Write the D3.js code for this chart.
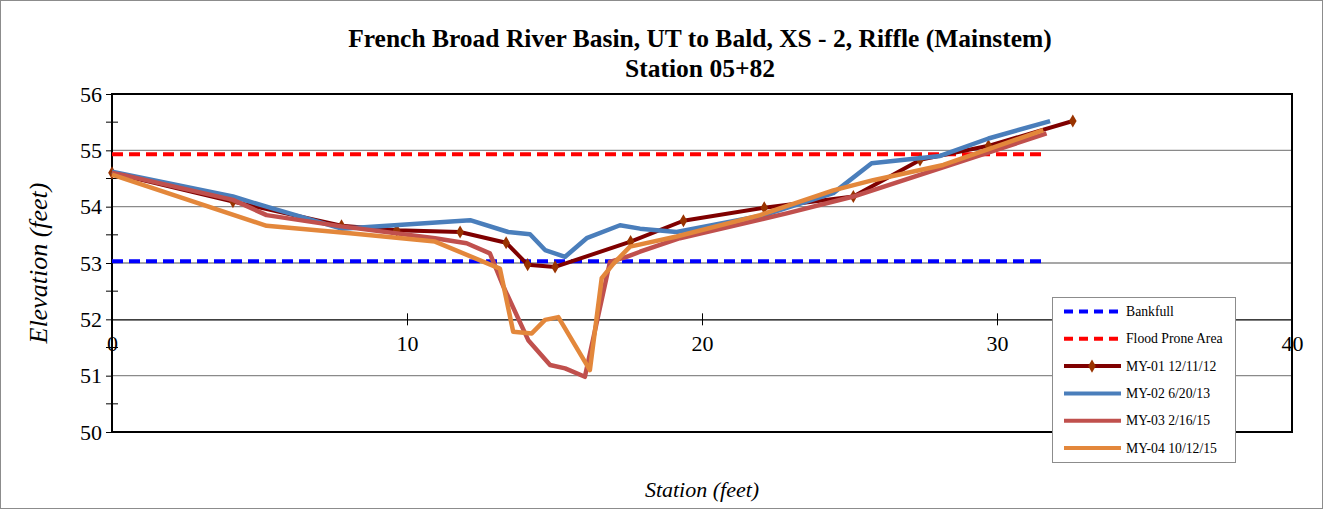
<!DOCTYPE html>
<html>
<head>
<meta charset="utf-8">
<title>French Broad River Basin, UT to Bald, XS - 2</title>
<style>
  body { margin: 0; background: #fff; }
  svg text { font-family: "Liberation Serif", "Times New Roman", serif; }
</style>
<script src="https://cdn.jsdelivr.net/npm/d3@7"></script>
</head>
<body>
<script>
// cross section survey data, station (ft) vs elevation (ft)
var bankfull = [[0, 53.03], [31.6, 53.03]];
var floodProne = [[0, 54.93], [31.6, 54.93]];

var my01 = [[0, 54.6], [4.1, 54.09], [7.78, 53.66], [9.65, 53.58], [11.8, 53.55], [13.36, 53.36],
  [14.09, 52.97], [15.02, 52.93], [17.58, 53.38], [19.37, 53.75], [22.11, 53.98], [25.13, 54.18],
  [27.39, 54.83], [29.71, 55.08], [32.57, 55.52]];

var my02 = [[0, 54.62], [4.1, 54.18], [5.24, 54.0], [7.78, 53.61], [12.14, 53.76], [13.43, 53.55],
  [14.17, 53.51], [14.68, 53.23], [15.36, 53.11], [16.09, 53.44], [17.22, 53.67], [17.9, 53.61],
  [19.14, 53.55], [22.1, 53.85], [24.45, 54.24], [25.75, 54.77], [28.07, 54.9], [29.71, 55.21],
  [31.8, 55.52]];

var my03 = [[0, 54.6], [0.4, 54.56], [4.1, 54.12], [5.24, 53.85], [7.78, 53.65], [10.95, 53.44],
  [12.02, 53.35], [12.81, 53.17], [13.27, 52.58], [14.11, 51.63], [14.85, 51.19], [15.36, 51.13],
  [16.03, 50.98], [16.88, 53.02], [17.44, 53.11], [17.9, 53.2], [19.25, 53.44], [22.87, 53.88],
  [25.13, 54.18], [31.68, 55.3]];

var my04 = [[0, 54.57], [5.24, 53.66], [8.07, 53.53], [10.95, 53.38], [13.15, 52.9], [13.6, 51.78],
  [14.23, 51.75], [14.68, 51.99], [15.13, 52.04], [16.2, 51.1], [16.6, 52.73], [17.0, 52.99],
  [17.56, 53.29], [19.14, 53.47], [21.97, 53.85], [24.45, 54.29], [25.8, 54.47], [28.18, 54.74],
  [31.57, 55.36]];

var seriesNames = ["Bankfull", "Flood Prone Area", "MY-01 12/11/12", "MY-02 6/20/13", "MY-03 2/16/15", "MY-04 10/12/15"];
var xTicks = [0, 10, 20, 30, 40];
var yTicks = [50, 51, 52, 53, 54, 55, 56];

var W = 1323, H = 509;
var margin = {top: 94, right: 31, bottom: 77, left: 112};
var serif = '"Liberation Serif", "Times New Roman", serif';

var x = d3.scaleLinear().domain([0, 40]).range([margin.left, W - margin.right]);
var y = d3.scaleLinear().domain([50, 56]).range([H - margin.bottom, margin.top]);

var svg = d3.select("body").append("svg")
  .attr("width", W)
  .attr("height", H);

// outer chart frame
svg.append("rect")
  .attr("x", 0.5).attr("y", 0.5)
  .attr("width", W - 1).attr("height", H - 1)
  .attr("fill", "#fff")
  .attr("stroke", "#8c8c8c");

// title
svg.append("text")
  .attr("x", 700).attr("y", 47)
  .attr("text-anchor", "middle")
  .style("font-size", "25.5px").style("font-weight", "bold")
  .text("French Broad River Basin, UT to Bald, XS - 2, Riffle (Mainstem)");
svg.append("text")
  .attr("x", 700).attr("y", 77)
  .attr("text-anchor", "middle")
  .style("font-size", "25.5px").style("font-weight", "bold")
  .text("Station 05+82");

// gridlines (the 52 line is the x axis)
svg.append("g").selectAll("line")
  .data(yTicks.filter(d => d != 50 && d != 56 && d != 52))
  .enter().append("line")
  .attr("x1", x(0)).attr("x2", x(40))
  .attr("y1", d => y(d)).attr("y2", d => y(d))
  .attr("stroke", "#8a8a8a")
  .attr("stroke-width", 1.3);

// y axis, major ticks outside
var yAxis = d3.axisLeft(y).tickValues(yTicks).tickSize(6).tickPadding(4).tickFormat(d3.format("d"));
var gy = svg.append("g")
  .attr("transform", "translate(" + x(0) + ",0)")
  .call(yAxis)
  .attr("font-family", serif);
gy.select(".domain").remove();
gy.selectAll("text").style("font-size", "22px").attr("fill", "#000");

// minor y ticks cross the axis
svg.append("g").selectAll("line")
  .data(d3.range(50.5, 56, 1))
  .enter().append("line")
  .attr("x1", x(0) - 6).attr("x2", x(0) + 6)
  .attr("y1", d => y(d)).attr("y2", d => y(d))
  .attr("stroke", "#000");

// x axis crossing at 52
var xAxis = d3.axisBottom(x).tickValues(xTicks).tickSize(0).tickPadding(16).tickFormat(d3.format("d"));
var gx = svg.append("g")
  .attr("transform", "translate(0," + y(52) + ")")
  .call(xAxis)
  .attr("font-family", serif);
gx.select(".domain").attr("stroke", "#000").attr("stroke-width", 1.2);
gx.selectAll("text").style("font-size", "22px").attr("fill", "#000");
gx.selectAll(".tick").append("line")
  .attr("y1", -6).attr("y2", 6)
  .attr("stroke", "#000");

// plot area border
svg.append("rect")
  .attr("x", x(0)).attr("y", y(56))
  .attr("width", x(40) - x(0)).attr("height", y(50) - y(56))
  .attr("fill", "none")
  .attr("stroke", "#000")
  .attr("stroke-width", 2);

// axis titles
svg.append("text")
  .attr("transform", "translate(47," + y(53) + ") rotate(-90)")
  .attr("text-anchor", "middle")
  .style("font-size", "26px").style("font-style", "italic")
  .text("Elevation (feet)");
svg.append("text")
  .attr("x", x(20)).attr("y", 497)
  .attr("text-anchor", "middle")
  .style("font-size", "22px").style("font-style", "italic")
  .text("Station (feet)");

var line = d3.line()
  .x(d => x(d[0]))
  .y(d => y(d[1]));

var styles = [
  {data: bankfull, color: "#0000ff", dash: "11,6", width: 4},
  {data: floodProne, color: "#ff0000", dash: "11,6", width: 4},
  {data: my01, color: "#7f0000", dash: null, width: 4},
  {data: my02, color: "#4a7ebb", dash: null, width: 4.5},
  {data: my03, color: "#c0504d", dash: null, width: 4.5},
  {data: my04, color: "#e3873b", dash: null, width: 4.5}
];

var diamond = d3.symbol().type(d3.symbolDiamond).size(50);

styles.forEach(function(s, i) {
  svg.append("path").datum(s.data)
    .attr("d", line)
    .attr("fill", "none")
    .attr("stroke", s.color)
    .attr("stroke-width", s.width)
    .attr("stroke-linejoin", "round")
    .attr("stroke-dasharray", s.dash);
  if (i == 2) {
    svg.append("g").selectAll("path")
      .data(s.data).enter().append("path")
      .attr("d", diamond)
      .attr("transform", d => "translate(" + x(d[0]) + "," + y(d[1]) + ")")
      .attr("fill", "#993300");
  }
});

// legend
var lg = svg.append("g").attr("transform", "translate(1052,297)");
lg.append("rect")
  .attr("x", 0.5).attr("y", 0.5)
  .attr("width", 183).attr("height", 165)
  .attr("fill", "#fff")
  .attr("stroke", "#8c8c8c");

var item = lg.selectAll(".legend")
  .data(seriesNames).enter().append("g")
  .attr("class", "legend")
  .attr("transform", (d, i) => "translate(0," + (14.5 + i * 27.3) + ")");

item.append("line")
  .attr("x1", 12).attr("x2", 69)
  .attr("stroke", (d, i) => styles[i].color)
  .attr("stroke-width", 4)
  .attr("stroke-dasharray", (d, i) => styles[i].dash ? "9,6" : null);
item.filter((d, i) => i == 2).append("path")
  .attr("d", diamond)
  .attr("transform", "translate(40,0)")
  .attr("fill", "#993300");
item.append("text")
  .attr("x", 74).attr("y", 4.5)
  .style("font-size", "13.7px")
  .text(d => d);
</script>
</body>
</html>
